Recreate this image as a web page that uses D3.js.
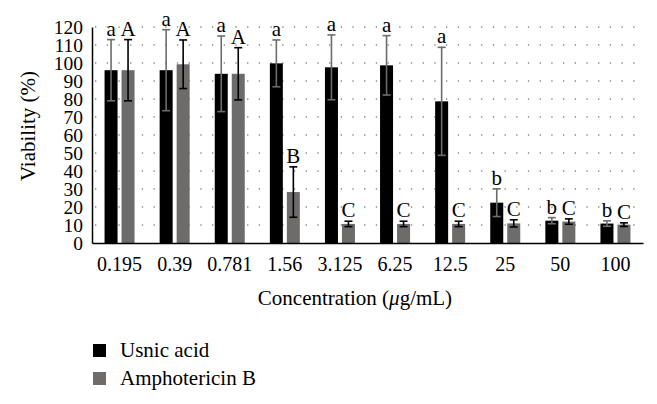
<!DOCTYPE html>
<html><head><meta charset="utf-8">
<script src="https://cdn.jsdelivr.net/npm/d3@7"></script>
<style>body{margin:0;background:#fff}svg{display:block}svg text{font-family:"Liberation Serif","DejaVu Serif",serif !important;fill:#000}</style>
</head><body><svg id="c" width="657" height="404" font-family="Liberation Serif, DejaVu Serif, serif"></svg>
<script>
const categories=["0.195","0.39","0.781","1.56","3.125","6.25","12.5","25","50","100"];
const usnic=[96,96,94,99.8,97.6,98.7,78.7,22.4,12.4,10.8];
const usnicErr=[17,22.5,21,13,18,16.5,30,7.7,1.7,1.5];
const usnicLetters=["a","a","a","a","a","a","a","b","b","b"];
const ampho=[96,99.3,94,28.3,10.6,10.6,10.6,10.9,11.9,10.2];
const amphoErr=[17,13.5,14.5,14,1.5,1.5,1.5,2,1.5,1];
const amphoLetters=["A","A","A","B","C","C","C","C","C","C"];
const yTicks=d3.range(0,121,10);
const seriesNames=["Usnic acid","Amphotericin B"];
const colors=["#000000","#6e6b6b"];
const errColors=["#6e6b6b","#000000"];

const svg=d3.select("#c");
const L=92,R=643,T=27,B=243;
const x=d3.scaleBand().domain(categories).range([L,R]);
const y=d3.scaleLinear().domain([0,120]).range([B,T]);
const bw=13,gap=4;

// grid
svg.append("g").selectAll("line").data(yTicks.filter(d=>d>0)).join("line")
  .attr("x1",L+3).attr("x2",R).attr("y1",d=>y(d)).attr("y2",d=>y(d))
  .attr("stroke","#888").attr("stroke-width",1.3).attr("stroke-dasharray","1.3,10.4");

const series=[
  {vals:usnic,err:usnicErr,letters:usnicLetters,off:-(bw+gap/2)},
  {vals:ampho,err:amphoErr,letters:amphoLetters,off:gap/2}
];
series.forEach((s,si)=>{
  const g=svg.append("g");
  const cx=(c)=>x(c)+x.bandwidth()/2+s.off;
  g.selectAll("rect").data(categories).join("rect")
    .attr("x",c=>cx(c)).attr("width",bw)
    .attr("y",(c,i)=>y(s.vals[i])).attr("height",(c,i)=>B-y(s.vals[i]))
    .attr("fill",colors[si]);
  const eg=g.append("g").attr("stroke",errColors[si]).attr("stroke-width",1.6);
  categories.forEach((c,i)=>{
    const m=cx(c)+bw/2, hi=y(s.vals[i]+s.err[i]), lo=y(s.vals[i]-s.err[i]);
    eg.append("line").attr("x1",m).attr("x2",m).attr("y1",hi).attr("y2",lo);
    eg.append("line").attr("x1",m-4).attr("x2",m+4).attr("y1",hi).attr("y2",hi);
    eg.append("line").attr("x1",m-4).attr("x2",m+4).attr("y1",lo).attr("y2",lo);
  });
  g.selectAll("text").data(categories).join("text")
    .attr("x",c=>cx(c)+bw/2).attr("y",(c,i)=>y(s.vals[i]+s.err[i])-4)
    .attr("text-anchor","middle").attr("font-size",21)
    .text((c,i)=>s.letters[i]);
});

// axes
const xa=svg.append("g").attr("transform",`translate(0,${B})`)
  .call(d3.axisBottom(x).tickSize(0).tickPadding(14));
xa.attr("font-family",null).attr("font-size",null);
xa.select(".domain").attr("stroke","#000").attr("stroke-width",1.5);
xa.selectAll("text").attr("font-size",20).attr("fill","#000");
const ya=svg.append("g").attr("transform",`translate(${L},0)`)
  .call(d3.axisLeft(y).tickValues(yTicks).tickSize(0).tickPadding(9));
ya.attr("font-family",null).attr("font-size",null);
ya.select(".domain").attr("stroke","#000").attr("stroke-width",1.5);
ya.selectAll("text").attr("font-size",19.5).attr("fill","#000").attr("dy","0.34em");

svg.append("text").attr("x",355).attr("y",305).attr("text-anchor","middle").attr("font-size",21)
  .html('Concentration (<tspan font-style="italic">μ</tspan>g/mL)');
svg.append("text").attr("transform","translate(35,126) rotate(-90)").attr("text-anchor","middle").attr("font-size",21)
  .text("Viability (%)");

// legend
const lg=svg.append("g");
seriesNames.forEach((n,i)=>{
  lg.append("rect").attr("x",93).attr("y",344+i*28).attr("width",13).attr("height",13).attr("fill",colors[i]);
  lg.append("text").attr("x",120).attr("y",357+i*28).attr("font-size",21).text(n);
});
</script></body></html>
